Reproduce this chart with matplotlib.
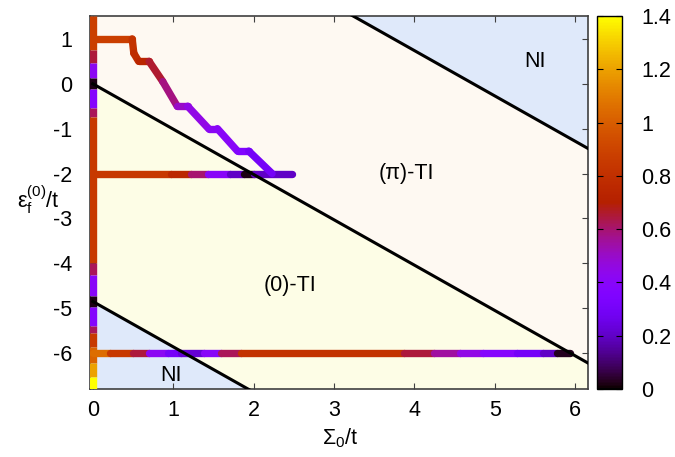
import numpy as np
import matplotlib
matplotlib.use('Agg')
import matplotlib.pyplot as plt
from matplotlib.colors import ListedColormap, Normalize
from matplotlib.collections import LineCollection
from matplotlib.cm import ScalarMappable

plt.rcParams['font.family'] = ['Liberation Sans', 'DejaVu Sans']
plt.rcParams['mathtext.fontset'] = 'custom'
plt.rcParams['mathtext.rm'] = 'Liberation Sans'
plt.rcParams['mathtext.it'] = 'Liberation Sans'
plt.rcParams['axes.unicode_minus'] = False

# ---------------- data ----------------
x_ticks = [0, 1, 2, 3, 4, 5, 6]
y_ticks = [-6, -5, -4, -3, -2, -1, 0, 1]
cb_ticks = [0, 0.2, 0.4, 0.6, 0.8, 1.0, 1.2, 1.4]
cb_labels = ['0', '0.2', '0.4', '0.6', '0.8', '1', '1.2', '1.4']

boundary_slope = -1.01
boundary_intercepts = [4.78, 0.0, -4.85]   # top, middle, bottom phase boundaries

region_labels = ['NI', '(\u03c0)-TI', '(0)-TI', 'NI']
region_label_x = [5.5, 3.9, 2.45, 0.97]
region_label_y = [0.5, -2.0, -4.5, -6.5]

# path along Sigma0 = 0 (vertical), segment breakpoints and segment values
axis_path_y = [1.51, 0.75, 0.47, 0.12, -0.12, -0.55, -0.75, -4.0, -4.27, -4.72,
               -4.97, -5.4, -5.55, -5.87, -6.22, -6.53, -6.8]
axis_path_v = [0.88, 0.65, 0.42, 0.02, 0.38, 0.62, 0.85, 0.62, 0.40, 0.02,
               0.38, 0.62, 0.85, 1.02, 1.2, 1.4]

# horizontal path at eps = -2
path_m2_x = [0.0, 0.97, 1.22, 1.43, 1.71, 1.88, 2.0, 2.48]
path_m2_v = [0.85, 0.75, 0.6, 0.4, 0.2, 0.02, 0.2]

# horizontal path at eps = -6
path_m6_x = [0.0, 0.22, 0.5, 0.7, 0.93, 1.1, 1.38, 1.6, 1.84, 3.87, 4.24, 4.57,
             4.86, 5.28, 5.6, 5.78, 5.93]
path_m6_v = [1.05, 0.85, 0.65, 0.42, 0.3, 0.22, 0.4, 0.62, 0.82, 0.65, 0.55,
             0.45, 0.38, 0.3, 0.2, 0.03]

# staircase path
stair_x = [0.0, 0.49, 0.51, 0.57, 0.70, 0.87, 1.05, 1.18, 1.44, 1.55, 1.80, 1.94, 2.23]
stair_y = [1.0, 1.0, 0.68, 0.5, 0.5, 0.05, -0.5, -0.5, -1.0, -1.0, -1.5, -1.5, -2.0]
stair_v = [0.88, 0.82, 0.78, 0.74, 0.66, 0.58, 0.5, 0.45, 0.42, 0.4, 0.36, 0.3]

# ---------------- colormap (gnuplot rgbformulae 7,5,15) ----------------
s = np.linspace(0, 1, 256)
cmap = ListedColormap(np.column_stack([np.sqrt(s), s ** 3,
                                       np.clip(np.sin(2 * np.pi * s), 0, 1)]))
norm = Normalize(0, 1.4)

FS = 15.5

fig = plt.figure(figsize=(6.75, 4.57), dpi=100)
ax = fig.add_axes([90 / 675, 1 - 389 / 457, 498 / 675, 373 / 457])
xmin, xmax, ymin, ymax = -0.035, 6.16, -6.8, 1.51
ax.set_xlim(xmin, xmax)
ax.set_ylim(ymin, ymax)

xs = np.array([xmin, xmax])
top = boundary_intercepts[0] + boundary_slope * xs
mid = boundary_intercepts[1] + boundary_slope * xs
bot = boundary_intercepts[2] + boundary_slope * xs
ax.fill_between(xs, top, 10, color='#dfe9fa', lw=0, zorder=0)
ax.fill_between(xs, mid, top, color='#fef9f2', lw=0, zorder=0)
ax.fill_between(xs, bot, mid, color='#fdfde6', lw=0, zorder=0)
ax.fill_between(xs, -20, bot, color='#dfe9fa', lw=0, zorder=0)

lw_data = 5.3

def draw_path(px, py, vals, cap='round'):
    pts = np.column_stack([px, py])
    segs = np.stack([pts[:-1], pts[1:]], axis=1)
    lc = LineCollection(segs, cmap=cmap, norm=norm, linewidths=lw_data,
                        capstyle=cap, joinstyle='round', zorder=3)
    lc.set_array(np.asarray(vals))
    ax.add_collection(lc)

draw_path(np.zeros(len(axis_path_y)), axis_path_y, axis_path_v, cap='butt')
draw_path(path_m2_x, np.full(len(path_m2_x), -2.0), path_m2_v)
draw_path(path_m6_x, np.full(len(path_m6_x), -6.0), path_m6_v)
draw_path(stair_x, stair_y, stair_v)

for b in boundary_intercepts:
    xx = np.array([0.0, xmax])
    ax.plot(xx, b + boundary_slope * xx, color='black', lw=2.2, zorder=4)

for t, lx, ly in zip(region_labels, region_label_x, region_label_y):
    ax.text(lx, ly, t, fontsize=FS, ha='center', va='center', zorder=5)

ax.set_xticks(x_ticks)
ax.set_yticks(y_ticks)
ax.set_xticklabels([str(v) for v in x_ticks])
ax.set_yticklabels([str(v) for v in y_ticks])
ax.tick_params(direction='in', length=4, width=0.8, colors='#404040',
               labelcolor='black', labelsize=FS, top=True, right=True)
ax.tick_params(axis='x', pad=8)
ax.tick_params(axis='y', pad=13)
for sp in ax.spines.values():
    sp.set_color('#404040')
    sp.set_linewidth(1.2)
    sp.set_zorder(2)

fig.text(340 / 675, 1 - 438 / 457, r'$\mathrm{\Sigma}_\mathrm{0}\mathrm{/t}$',
         fontsize=FS, ha='center', va='center')
fig.text(38 / 675, 1 - 200 / 457, r'$\mathrm{\epsilon}_\mathrm{f}^\mathrm{(0)}\mathrm{/t}$',
         fontsize=FS, ha='center', va='center')

cax = fig.add_axes([597 / 675, 1 - 389 / 457, 25 / 675, 373 / 457])
sm = ScalarMappable(norm=norm, cmap=cmap)
cb = fig.colorbar(sm, cax=cax)
cb.set_ticks(cb_ticks)
cb.set_ticklabels(cb_labels)
cb.outline.set_linewidth(1.0)
cax.tick_params(direction='in', length=4, width=0.8, labelsize=FS, pad=14,
                left=True, right=True)

fig.savefig('out.png', dpi=100)
